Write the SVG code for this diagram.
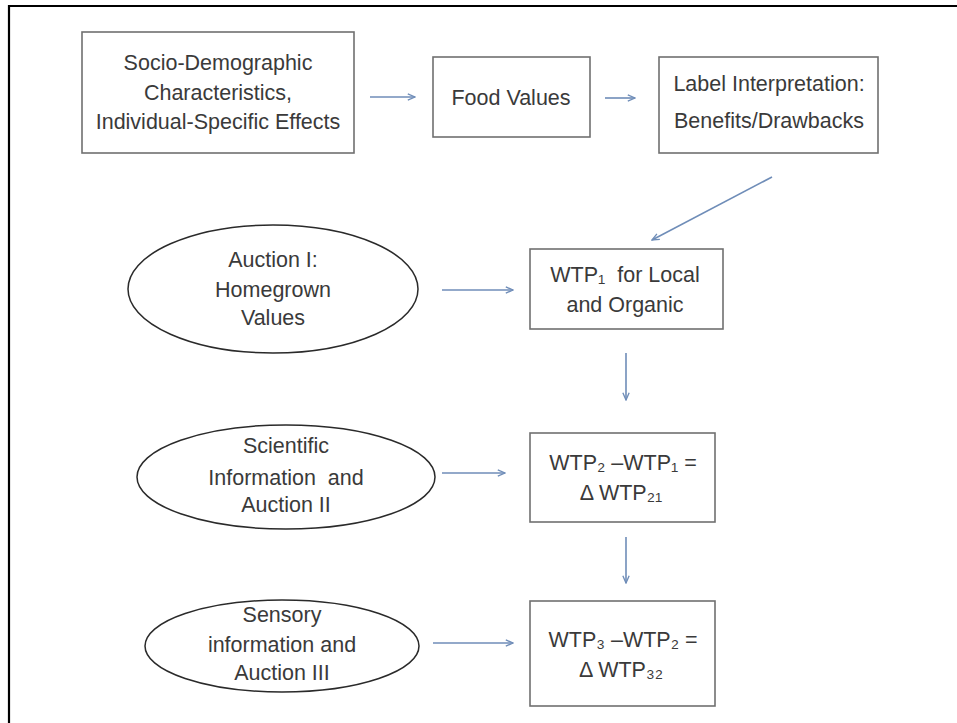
<svg xmlns="http://www.w3.org/2000/svg" width="957" height="723" viewBox="0 0 957 723">
<defs>
<style>
.box{fill:#fff;stroke:#707070;stroke-width:1.6}
.ell{fill:#fff;stroke:#2a2a2a;stroke-width:1.5}
.t{font-family:"Liberation Sans",Arial,sans-serif;font-size:21.5px;fill:#3a3a3a;text-anchor:middle;white-space:pre}
.c{stroke:#6f8db8;stroke-width:1.6;fill:none;marker-end:url(#ah)}
</style>
<marker id="ah" viewBox="0 0 10 10" refX="9" refY="5" markerWidth="9" markerHeight="9" markerUnits="userSpaceOnUse" orient="auto">
<polyline points="1,1.5 9,5 1,8.5" fill="none" stroke="#6f8db8" stroke-width="1.5"/>
</marker>
</defs>
<rect width="957" height="723" fill="#fff"/>
<path d="M9,723 V6 H957" fill="none" stroke="#000" stroke-width="2.2"/>

<g id="socio">
<rect class="box" x="82" y="32" width="272" height="121"/>
<text class="t" x="218" y="70">Socio-Demographic</text>
<text class="t" x="218" y="100">Characteristics,</text>
<text class="t" x="218" y="129">Individual-Specific Effects</text>
</g>
<g id="food">
<rect class="box" x="433" y="57" width="157" height="80"/>
<text class="t" x="511" y="105">Food Values</text>
</g>
<g id="label">
<rect class="box" x="659" y="57" width="219" height="96"/>
<text class="t" x="769" y="91">Label Interpretation:</text>
<text class="t" x="769" y="128">Benefits/Drawbacks</text>
</g>
<g id="auction1">
<ellipse class="ell" cx="273" cy="289" rx="145" ry="64"/>
<text class="t" x="273" y="267">Auction I:</text>
<text class="t" x="273" y="297">Homegrown</text>
<text class="t" x="273" y="325">Values</text>
</g>
<g id="wtp1">
<rect class="box" x="530" y="249" width="193" height="80"/>
<text class="t" x="625" y="282" xml:space="preserve">WTP₁  for Local</text>
<text class="t" x="625" y="312">and Organic</text>
</g>
<g id="auction2">
<ellipse class="ell" cx="286" cy="477" rx="149" ry="52"/>
<text class="t" x="286" y="453">Scientific</text>
<text class="t" x="286" y="485" xml:space="preserve">Information  and</text>
<text class="t" x="286" y="512">Auction II</text>
</g>
<g id="wtp2">
<rect class="box" x="530" y="433" width="185" height="89"/>
<text class="t" x="623" y="470">WTP₂ –WTP₁ =</text>
<text class="t" x="621" y="500">Δ WTP₂₁</text>
</g>
<g id="auction3">
<ellipse class="ell" cx="282" cy="646" rx="137" ry="46"/>
<text class="t" x="282" y="622">Sensory</text>
<text class="t" x="282" y="652">information and</text>
<text class="t" x="282" y="680">Auction III</text>
</g>
<g id="wtp3">
<rect class="box" x="530" y="601" width="185" height="105"/>
<text class="t" x="623" y="647">WTP₃ –WTP₂ =</text>
<text class="t" x="621" y="677">Δ WTP₃₂</text>
</g>

<g id="connectors">
<line class="c" x1="370" y1="97" x2="415" y2="97"/>
<line class="c" x1="605" y1="98" x2="635" y2="98"/>
<line class="c" x1="772" y1="177" x2="652" y2="240"/>
<line class="c" x1="442" y1="290" x2="513" y2="290"/>
<line class="c" x1="626" y1="353" x2="626" y2="400"/>
<line class="c" x1="442" y1="473" x2="505" y2="473"/>
<line class="c" x1="626" y1="537" x2="626" y2="583"/>
<line class="c" x1="433" y1="643" x2="513" y2="643"/>
</g>
</svg>
